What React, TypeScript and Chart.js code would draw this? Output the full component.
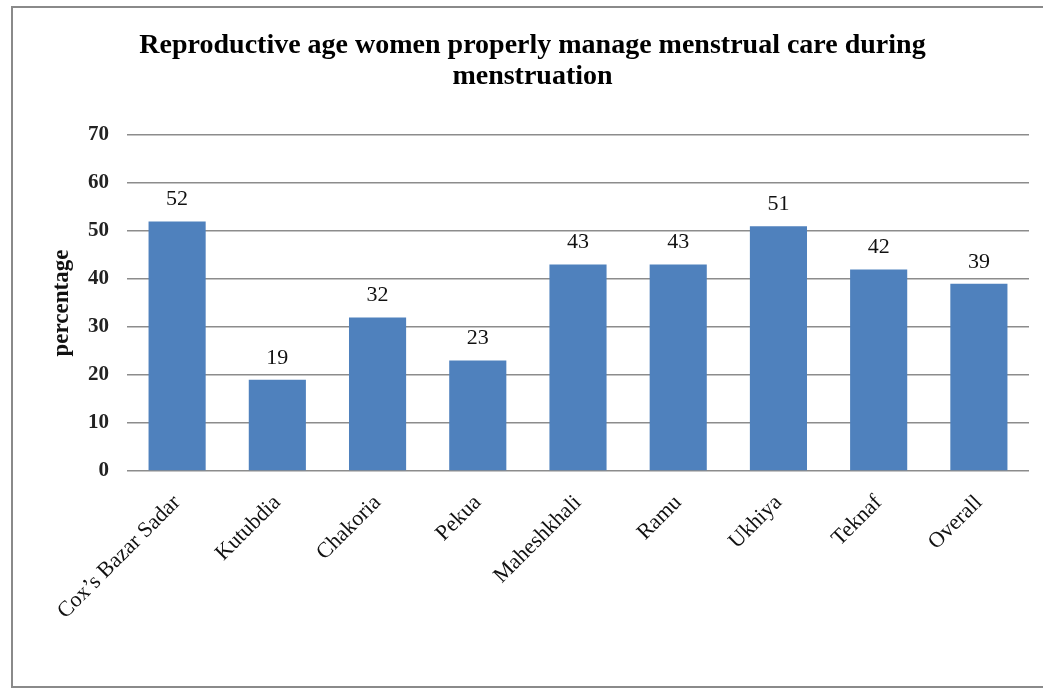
import React, { useEffect, useRef } from "react";
import { Chart, registerables, Plugin } from "chart.js";

Chart.register(...registerables);

const categories = [
  "Cox’s Bazar Sadar",
  "Kutubdia",
  "Chakoria",
  "Pekua",
  "Maheshkhali",
  "Ramu",
  "Ukhiya",
  "Teknaf",
  "Overall",
];
const percentages = [52, 19, 32, 23, 43, 43, 51, 42, 39];
const titleLines = [
  "Reproductive age women properly manage menstrual care during",
  "menstruation",
];
const yAxisTitle = "percentage";

const SERIF = "'Liberation Serif', 'Times New Roman', serif";

// Draws each bar's value centred above it.
const valueLabels: Plugin<"bar"> = {
  id: "valueLabels",
  afterDatasetsDraw(chart) {
    const ctx = chart.ctx;
    const meta = chart.getDatasetMeta(0);
    const data = chart.data.datasets[0].data as number[];
    ctx.save();
    ctx.font = `22px ${SERIF}`;
    ctx.fillStyle = "#111";
    ctx.textAlign = "center";
    ctx.textBaseline = "middle";
    meta.data.forEach((bar, i) => {
      const { x, y } = bar.getProps(["x", "y"], true) as any;
      ctx.fillText(String(data[i]), x, y - 22);
    });
    ctx.restore();
  },
};

export default function App() {
  const canvasRef = useRef<HTMLCanvasElement>(null);

  useEffect(() => {
    if (!canvasRef.current) return;
    const chart = new Chart(canvasRef.current, {
      type: "bar",
      data: {
        labels: categories,
        datasets: [
          {
            data: percentages,
            backgroundColor: "#4F81BD",
            borderWidth: 0,
            barPercentage: 0.57,
            categoryPercentage: 1,
          },
        ],
      },
      options: {
        responsive: false,
        animation: false,
        layout: { padding: { left: 36, right: 14, top: 0, bottom: 0 } },
        plugins: {
          legend: { display: false },
          tooltip: { enabled: false },
          title: {
            display: true,
            text: titleLines,
            color: "#000",
            font: { family: SERIF, size: 28, weight: "bold", lineHeight: 31 / 28 },
            padding: { top: 30, bottom: 43 },
          },
        },
        scales: {
          x: {
            grid: { display: false },
            border: { display: false },
            ticks: {
              color: "#111",
              font: { family: SERIF, size: 22 },
              minRotation: 45,
              maxRotation: 45,
              padding: 11,
              autoSkip: false,
            },
            afterFit(scale) {
              scale.height = 218;
            },
          },
          y: {
            min: 0,
            max: 70,
            ticks: {
              stepSize: 10,
              color: "#222",
              font: { family: SERIF, size: 21, weight: "bold" },
              padding: 18,
            },
            grid: {
              color: "#8c8c8c",
              lineWidth: 1.5,
              drawTicks: false,
            },
            border: { display: false },
            title: {
              display: true,
              text: yAxisTitle,
              color: "#111",
              font: { family: SERIF, size: 23, weight: "bold" },
              padding: { top: 12, bottom: 0 },
            },
            afterFit(scale) {
              scale.width = 91;
            },
          },
        },
      },
      plugins: [valueLabels],
    });
    return () => chart.destroy();
  }, []);

  return (
    <div
      style={{
        position: "fixed",
        left: 0,
        top: 0,
        width: 1043,
        height: 689,
        background: "#fff",
        overflow: "hidden",
      }}
    >
      <div
        style={{
          position: "absolute",
          left: 11,
          top: 6,
          width: 1040,
          height: 682,
          boxSizing: "border-box",
          borderLeft: "2px solid #8a8a8a",
          borderTop: "2px solid #8a8a8a",
          borderBottom: "2px solid #8a8a8a",
        }}
      />
      <canvas
        ref={canvasRef}
        width={1043}
        height={689}
        style={{ position: "absolute", left: 0, top: 0 }}
      />
    </div>
  );
}
